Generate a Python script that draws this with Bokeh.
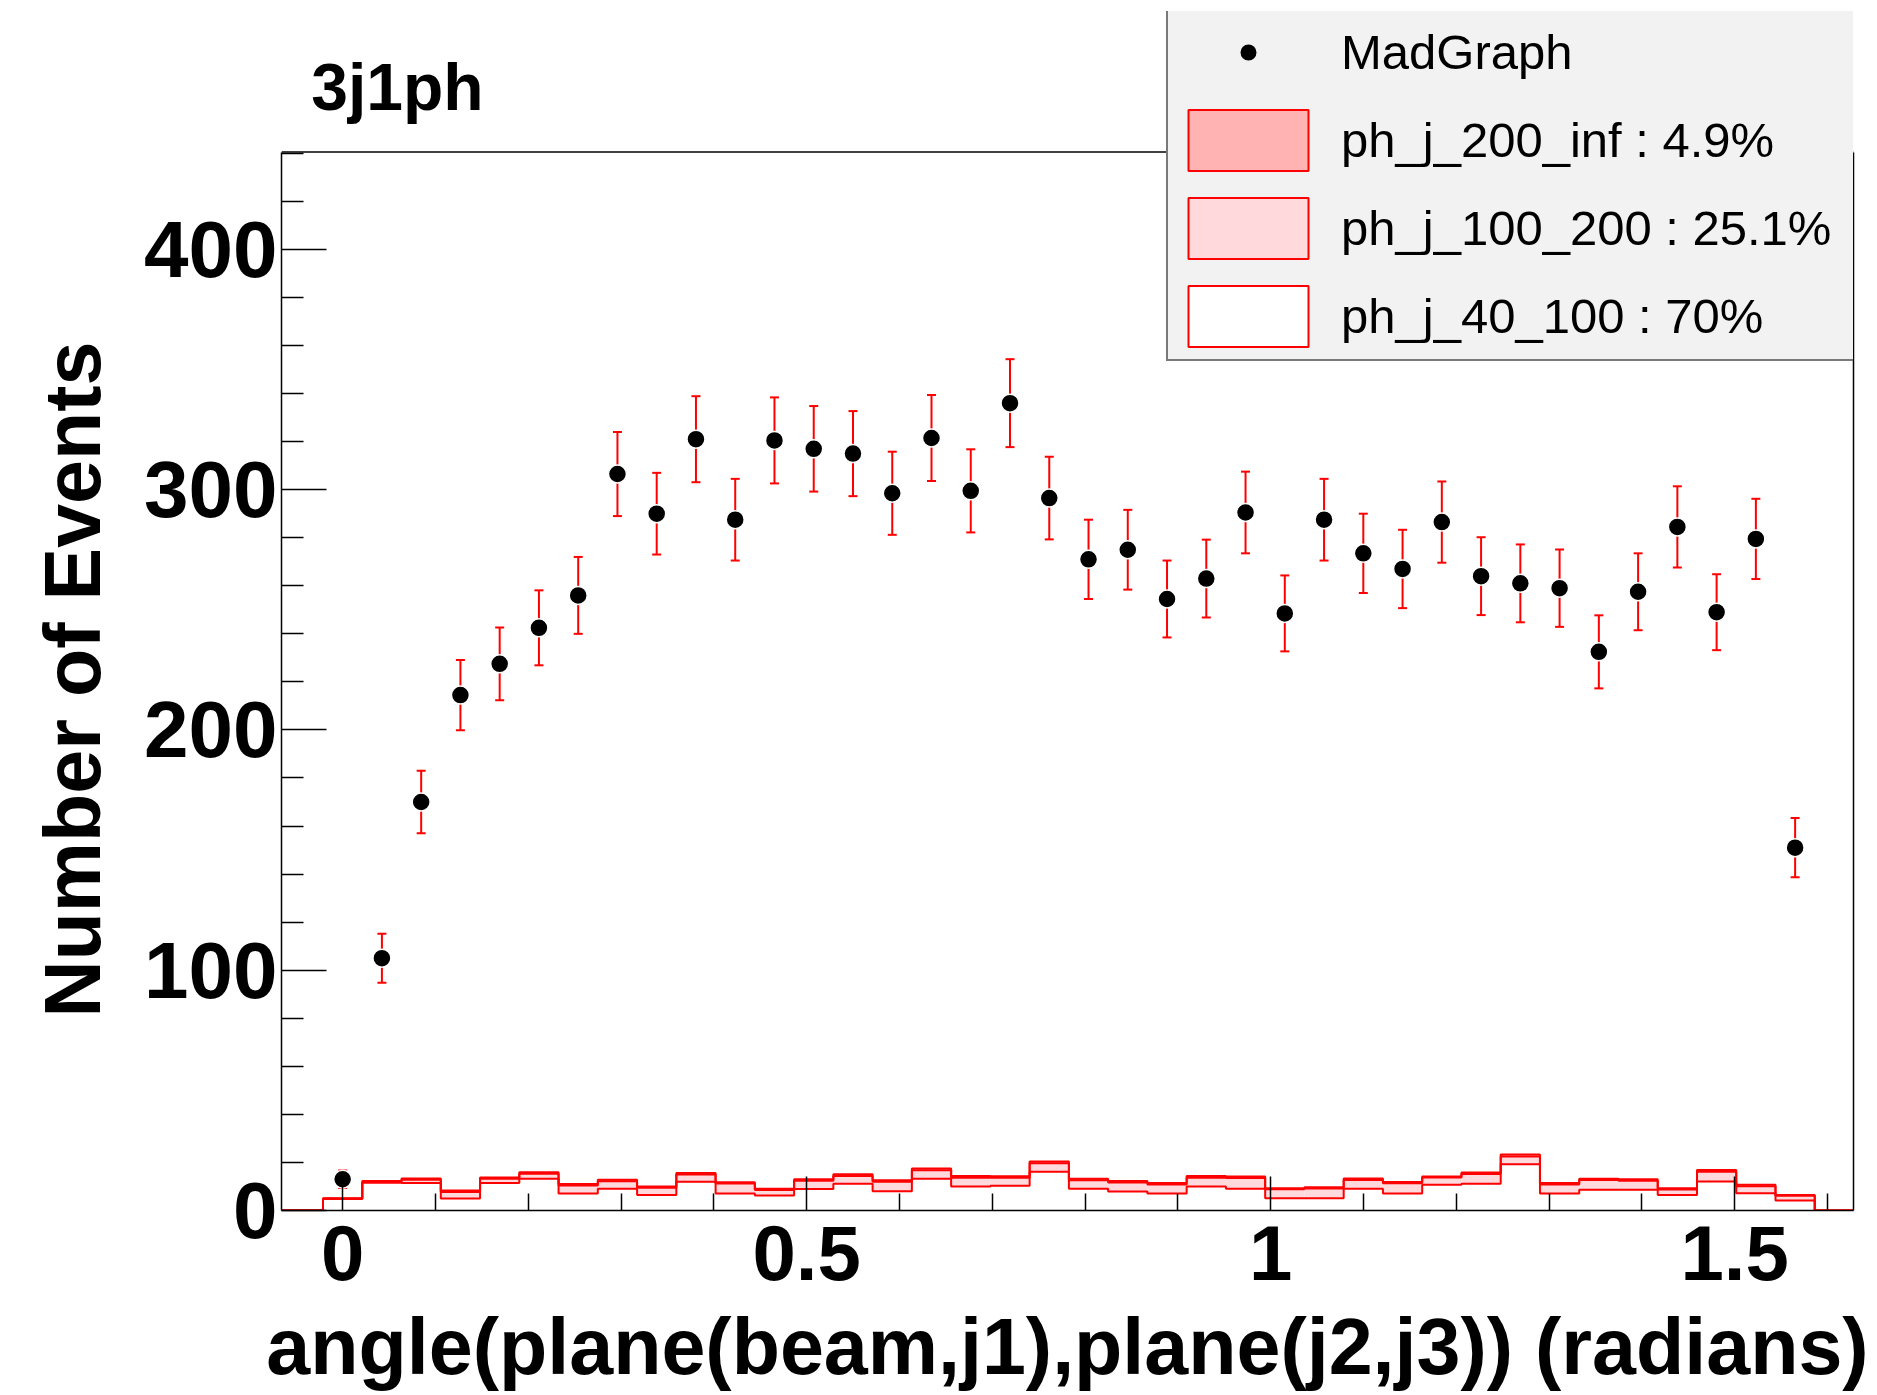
import numpy as np
from bokeh.plotting import figure
from bokeh.models import (Range1d, FixedTicker, Legend, LegendItem, CustomJSTickFormatter,
                          LinearAxis, Span, Label, Title)
from bokeh.embed import file_html
from bokeh.resources import INLINE

# ---------------- data ----------------
title_text = "3j1ph"
x_label = "angle(plane(beam,j1),plane(j2,j3)) (radians)"
y_label = "Number of Events"

bin_width = 0.0423
n_bins = 38

madgraph = [13, 105, 170, 214.5, 227.5, 242.5, 256, 306.5, 290, 321, 287.5, 320.5, 317, 315,
            298.5, 321.5, 299.5, 336, 296.5, 271, 275, 254.5, 263, 290.5, 248.5, 287.5, 273.5,
            267, 286.5, 264, 261, 259, 232.5, 257.5, 284.5, 249, 279.5, 151]
madgraph_err = [3.6, 10.2, 13.0, 14.6, 15.1, 15.6, 16.0, 17.5, 17.0, 17.9, 17.0, 17.9, 17.8, 17.7,
                17.3, 17.9, 17.3, 18.3, 17.2, 16.5, 16.6, 16.0, 16.2, 17.0, 15.8, 17.0, 16.5,
                16.3, 16.9, 16.2, 16.2, 16.1, 15.2, 16.0, 16.9, 15.8, 16.7, 12.3]

ph_j_40_100 = [4.8, 11.5, 11.4, 5.0, 11.4, 13.2, 7.1, 9.0, 6.4, 12.0, 7.1, 6.2, 8.9, 11.1, 8.0,
               13.2, 10.0, 10.3, 16.1, 9.0, 7.9, 7.1, 10.0, 9.0, 5.1, 5.1, 9.0, 7.1, 10.7, 11.1,
               19.3, 7.1, 8.6, 8.6, 6.4, 12.1, 7.2, 4.2]
ph_j_100_200 = [0.2, 0.4, 1.4, 2.7, 1.8, 2.1, 3.3, 3.2, 3.1, 3.0, 4.1, 2.3, 3.5, 3.3, 4.0, 3.6,
                3.6, 3.3, 3.6, 3.6, 3.8, 3.7, 3.6, 4.5, 3.7, 4.1, 3.7, 4.2, 3.0, 4.1, 3.2, 3.7,
                4.1, 3.8, 2.3, 4.0, 2.9, 1.9]
ph_j_200_inf = [0.1, 0.4, 0.5, 0.6, 0.5, 0.6, 0.6, 0.6, 0.5, 0.6, 0.6, 0.5, 0.6, 0.7, 0.6, 0.7,
                0.8, 0.7, 0.7, 0.6, 0.6, 0.6, 0.8, 0.6, 0.5, 0.5, 0.6, 0.6, 0.5, 0.6, 0.8, 0.6,
                0.5, 0.6, 0.6, 0.8, 0.6, 0.4]

legend_labels = ["MadGraph", "ph_j_200_inf : 4.9%", "ph_j_100_200 : 25.1%", "ph_j_40_100 : 70%"]

x_ticks = [0, 0.5, 1, 1.5]
x_minor_ticks = [0.1, 0.2, 0.3, 0.4, 0.6, 0.7, 0.8, 0.9, 1.1, 1.2, 1.3, 1.4, 1.6]
y_ticks = [0, 100, 200, 300, 400]
y_minor_ticks = [20, 40, 60, 80, 120, 140, 160, 180, 220, 240, 260, 280, 320, 340, 360, 380, 420, 440]

x_start, x_end = -0.0659, 1.628
y_axis_top = 440.5      # top of the drawn axis / frame box
y_view_top = 499.0      # extra room above the box for title and legend

# ---------------- derived ----------------
centers = np.arange(n_bins) * bin_width
left = centers - bin_width / 2
right = centers + bin_width / 2
c1 = np.array(ph_j_40_100)
c2 = c1 + np.array(ph_j_100_200)
c3 = c2 + np.array(ph_j_200_inf)
mg = np.array(madgraph)
mge = np.array(madgraph_err)

FONT = "Liberation Sans"
RED = "#ff0000"
PINK = "#ffd9dc"
ROSE = "#ffb3b3"
LEG_BG = "#f2f2f2"

p = figure(width=1877, height=1395, output_backend="svg", toolbar_location=None, title=None,
           x_range=Range1d(x_start, x_end), y_range=Range1d(0, y_view_top),
           min_border_left=281, min_border_right=24, min_border_top=11, min_border_bottom=185)
p.grid.visible = False
p.outline_line_color = None
p.background_fill_color = "white"
p.border_fill_color = "white"

# top edge of the frame box
p.add_layout(Span(location=y_axis_top, dimension="width", line_color="black",
                  line_width=1.5, level="underlay"))

# stacked histogram fills
p.quad(left=left, right=right, bottom=0, top=c1, fill_color="white", line_color=None)
p.quad(left=left, right=right, bottom=c1, top=c2, fill_color=PINK, line_color=None)
p.quad(left=left, right=right, bottom=c2, top=c3, fill_color=ROSE, line_color=None)

edges = list(left) + [right[-1]]
xs = [x_start] + edges + [x_end]
for cum in (c1, c2, c3):
    ys = [0] + list(cum) + [0, 0]
    p.step(x=xs, y=ys, mode="after", line_color=RED, line_width=2)

# data points with error bars
p.segment(x0=centers, y0=mg - mge, x1=centers, y1=mg + mge, line_color=RED, line_width=2)
p.scatter(x=centers, y=mg + mge, marker="dash", size=9, line_color=RED, line_width=2)
p.scatter(x=centers, y=mg - mge, marker="dash", size=9, line_color=RED, line_width=2)
p.scatter(x=centers, y=mg, marker="circle", size=18, fill_color="black",
          line_color="white", line_width=1.5)

# title text
p.add_layout(Label(x=-0.0338, y=467.6, text=title_text, text_font=FONT,
                   text_font_size="66px", text_font_style="bold", text_color="black",
                   text_baseline="middle"))

# legend (swatch renderers carry no visible data)
nan = [float("nan")]
leg_pts = p.scatter(x=nan, y=nan, marker="circle", size=16, fill_color="black",
                    line_color=LEG_BG, line_width=14.4)
leg200 = p.quad(left=nan, right=nan, top=nan, bottom=nan, fill_color=ROSE, line_color=RED, line_width=2)
leg100 = p.quad(left=nan, right=nan, top=nan, bottom=nan, fill_color=PINK, line_color=RED, line_width=2)
leg40 = p.quad(left=nan, right=nan, top=nan, bottom=nan, fill_color="white", line_color=RED, line_width=2)

legend = Legend(items=[LegendItem(label=legend_labels[0], renderers=[leg_pts]),
                       LegendItem(label=legend_labels[1], renderers=[leg200]),
                       LegendItem(label=legend_labels[2], renderers=[leg100]),
                       LegendItem(label=legend_labels[3], renderers=[leg40])],
                location=(885, 849))
legend.glyph_width = 150
legend.glyph_height = 76
legend.label_height = 76
legend.label_standoff = 18
legend.label_width = 509
legend.padding = 5
legend.spacing = 12
legend.margin = 0
legend.border_line_color = "black"
legend.border_line_width = 2
legend.background_fill_color = LEG_BG
legend.background_fill_alpha = 1
legend.label_text_font = FONT
legend.label_text_font_size = "49px"
legend.label_text_color = "black"
p.add_layout(legend)

# axes
xa = p.xaxis[0]
ya = p.yaxis[0]
xa.ticker = FixedTicker(ticks=x_ticks, minor_ticks=x_minor_ticks)
ya.ticker = FixedTicker(ticks=y_ticks, minor_ticks=y_minor_ticks)
ya.bounds = (0, y_axis_top)
xa.formatter = CustomJSTickFormatter(code="return String(tick)")
xa.axis_label = x_label
for ax in (xa, ya):
    ax.axis_line_color = "black"
    ax.axis_line_width = 1.5
    ax.major_tick_line_color = "black"
    ax.minor_tick_line_color = "black"
    ax.major_tick_line_width = 1.5
    ax.minor_tick_line_width = 1.5
    ax.major_tick_out = 0
    ax.minor_tick_out = 0
    ax.major_label_text_font = FONT
    ax.major_label_text_font_style = "bold"
    ax.major_label_text_color = "black"
xa.axis_label_text_font = FONT
xa.axis_label_text_font_style = "bold"
xa.axis_label_text_font_size = "79px"
xa.axis_label_text_color = "black"
xa.major_label_text_font_size = "78px"
ya.major_label_text_font_size = "80px"
xa.major_tick_in = 34
xa.minor_tick_in = 17
ya.major_tick_in = 45
ya.minor_tick_in = 22
xa.major_label_standoff = 15
xa.axis_label_standoff = 19
ya.major_label_standoff = 4

# y-axis title, placed along the left side
p.add_layout(Title(text=y_label, align="left", offset=193, standoff=49, text_font=FONT,
                   text_font_size="79px", text_font_style="bold", text_color="black"), "left")

# right edge of the frame box
ra = LinearAxis(bounds=(0, y_axis_top), ticker=FixedTicker(ticks=[]),
                major_tick_line_color=None, minor_tick_line_color=None,
                major_label_text_font_size="0px", axis_line_color="black", axis_line_width=1.5)
p.add_layout(ra, "right")

open("out.html", "w").write(file_html(p, INLINE))
